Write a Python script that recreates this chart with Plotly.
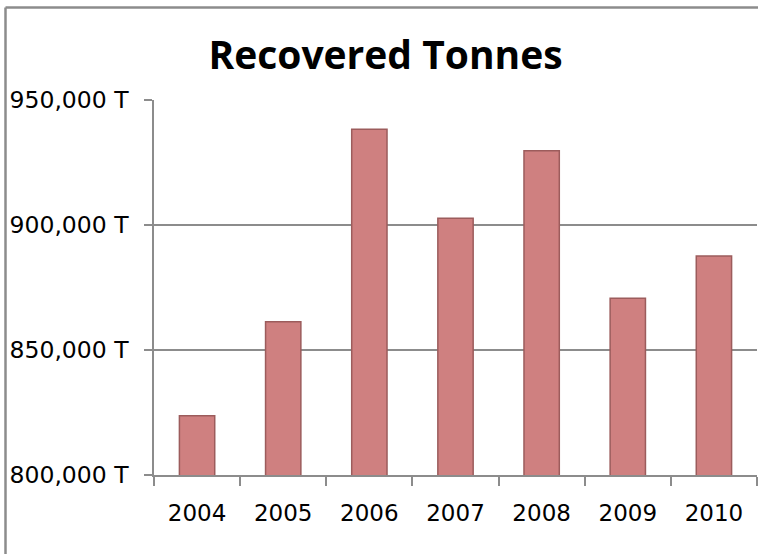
import plotly.graph_objects as go

years = ["2004", "2005", "2006", "2007", "2008", "2009", "2010"]
tonnes = [823700, 861300, 938300, 902700, 929700, 870700, 887600]
y_ticks = [800000, 850000, 900000, 950000]
y_tick_labels = ["800,000 T", "850,000 T", "900,000 T", "950,000 T"]

W, H = 758, 554
L, R, T, B = 154, 1, 100, 79
pw, ph = W - L - R, H - T - B
grey = "#8c8c8c"

fig = go.Figure(go.Bar(
    x=years, y=tonnes, width=0.41,
    marker=dict(color="#cf8080", line=dict(color="#9c5c5c", width=1.5)),
))

def px_to_paper_x(px):
    return (px - L) / pw

def px_to_paper_y(py):
    return (H - B - py) / ph

fig.update_layout(
    width=W, height=H,
    margin=dict(l=L, r=R, t=T, b=B, pad=0),
    paper_bgcolor="white", plot_bgcolor="white",
    showlegend=False,
    title=dict(text="<b>Recovered Tonnes</b>",
               font=dict(family="Open Sans", size=39, color="black"),
               xref="paper", x=px_to_paper_x(385.5), xanchor="center",
               yref="container", y=1 - 55 / H, yanchor="middle"),
    xaxis=dict(type="category", showline=True, linecolor=grey, linewidth=1.5,
               ticks="outside", ticklen=9, tickcolor=grey, tickwidth=1.5,
               tickson="boundaries", showgrid=False,
               tickfont=dict(family="DejaVu Sans", size=23, color="black"),
               ticklabelstandoff=17, range=[-0.5, 6.5]),
    yaxis=dict(range=[800000, 950000], tickvals=y_ticks, ticktext=y_tick_labels,
               showline=True, linecolor=grey, linewidth=1.5,
               ticks="outside", ticklen=8, tickcolor=grey, tickwidth=1.5,
               showgrid=True, gridcolor=grey, gridwidth=1.5, zeroline=False,
               tickfont=dict(family="DejaVu Sans", size=23.5, color="black"),
               ticklabelstandoff=11),
    shapes=[
        dict(type="line", xref="paper", yref="paper",
             x0=px_to_paper_x(5.5), x1=px_to_paper_x(760),
             y0=px_to_paper_y(7.5), y1=px_to_paper_y(7.5),
             line=dict(color=grey, width=2.5)),
        dict(type="line", xref="paper", yref="paper",
             x0=px_to_paper_x(5.5), x1=px_to_paper_x(5.5),
             y0=px_to_paper_y(7.5), y1=px_to_paper_y(560),
             line=dict(color=grey, width=2.5)),
    ],
)

fig.write_html("out.html",
               config={"displayModeBar": False},
               post_script="document.body.style.margin='0';document.body.style.overflow='hidden';")
